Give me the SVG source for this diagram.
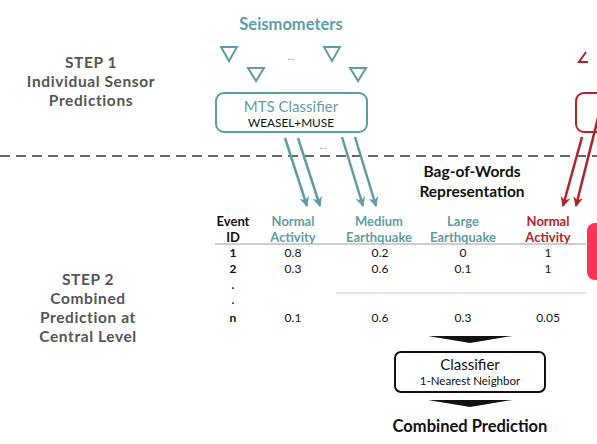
<svg xmlns="http://www.w3.org/2000/svg" width="597" height="444" viewBox="0 0 597 444">
<defs>
<style>
text{font-family:Lato,"Open Sans","DejaVu Sans",sans-serif;text-anchor:middle}
.step{font-weight:bold;font-size:15.5px;fill:#555;letter-spacing:0.6px}
.teal{fill:#5f9ea0}
.red{fill:#b22328}
.b{font-weight:bold}
.hdr{font-size:13px;font-weight:bold}
.val{font-size:12px;fill:#111}
.sens{fill:none;stroke:#5f9ea0;stroke-width:2}
.ta{stroke:#5f9ea0;stroke-width:2.5;fill:none;marker-end:url(#mt)}
.ra{stroke:#b22328;stroke-width:2.5;fill:none;marker-end:url(#mr)}
</style>
<marker id="mt" viewBox="0 0 10 10" refX="9" refY="5" markerWidth="4" markerHeight="4" orient="auto" markerUnits="strokeWidth"><path d="M0,0 L10,5 L0,10 L3,5 z" fill="#5f9ea0"/></marker>
<marker id="mr" viewBox="0 0 10 10" refX="9" refY="5" markerWidth="4" markerHeight="4" orient="auto" markerUnits="strokeWidth"><path d="M0,0 L10,5 L0,10 L3,5 z" fill="#b22328"/></marker>
</defs>
<rect width="597" height="444" fill="#fff"/>

<g id="step1">
<text class="step" x="91" y="68">STEP 1</text>
<text class="step" x="91" y="87">Individual Sensor</text>
<text class="step" x="91" y="106">Predictions</text>
</g>
<g id="step2">
<text class="step" x="88" y="285">STEP 2</text>
<text class="step" x="88" y="304">Combined</text>
<text class="step" x="88" y="323">Prediction at</text>
<text class="step" x="88" y="342">Central Level</text>
</g>

<g id="seismometers">
<text class="teal b" x="291" y="30" font-size="16.5">Seismometers</text>
<polygon class="sens" points="221,47 237,47 229,61"/>
<polygon class="sens" points="248,68 264,68 256,81"/>
<polygon class="sens" points="324,47 340,47 332,61"/>
<polygon class="sens" points="350,68 366,68 358,81"/>
<text x="291" y="60" font-size="10" fill="#5f9ea0">...</text>
</g>

<g id="red-sensor">
<path d="M586,52 L579,62 L588,62" fill="none" stroke="#b22328" stroke-width="2"/>
</g>

<g id="mts">
<rect x="216" y="93" width="151" height="39" rx="8" fill="#fff" stroke="#5f9ea0" stroke-width="2"/>
<text class="teal" x="291" y="112" font-size="15">MTS Classifier</text>
<text x="291" y="127" font-size="11.8" fill="#111">WEASEL+MUSE</text>
</g>

<g id="red-box">
<rect x="576" y="93" width="40" height="39" rx="8" fill="#fff" stroke="#b22328" stroke-width="2"/>
</g>

<g id="pink-box">
<rect x="587" y="223" width="30" height="57" rx="8" fill="#ff3355"/>
</g>

<line x1="0" y1="156" x2="597" y2="156" stroke="#666" stroke-width="2" stroke-dasharray="10,6"/>
<text x="323" y="149" font-size="10" fill="#5f9ea0">...</text>

<g id="connectors">
<line class="ta" x1="285" y1="138" x2="307" y2="206"/>
<line class="ta" x1="298" y1="138" x2="320" y2="206"/>
<line class="ta" x1="342" y1="137" x2="363" y2="206"/>
<line class="ta" x1="355" y1="137" x2="376" y2="206"/>
<line class="ra" x1="582" y1="137" x2="563" y2="206"/>
<line class="ra" x1="600" y1="110" x2="576" y2="206"/>
<polygon points="428,336 512,336 470,343" fill="#111"/>
<polygon points="428,400 512,400 470,407" fill="#111"/>
</g>

<g id="bow-title">
<text class="b" x="472" y="177" font-size="15.5" fill="#111">Bag-of-Words</text>
<text class="b" x="472" y="197" font-size="15.5" fill="#111">Representation</text>
</g>

<g id="table">
<text class="hdr" x="233" y="226" fill="#111">Event</text>
<text class="hdr" x="233" y="242" fill="#111">ID</text>
<text class="hdr teal" x="293" y="226">Normal</text>
<text class="hdr teal" x="293" y="242">Activity</text>
<text class="hdr teal" x="379" y="226">Medium</text>
<text class="hdr teal" x="379" y="242">Earthquake</text>
<text class="hdr teal" x="463" y="226">Large</text>
<text class="hdr teal" x="463" y="242">Earthquake</text>
<text class="hdr red" x="548" y="226">Normal</text>
<text class="hdr red" x="548" y="242">Activity</text>
<line x1="215" y1="244" x2="586" y2="244" stroke="#999" stroke-width="1"/>
<text class="val b" x="233" y="257">1</text>
<text class="val" x="293" y="257">0.8</text>
<text class="val" x="380" y="257">0.2</text>
<text class="val" x="463" y="257">0</text>
<text class="val" x="548" y="257">1</text>
<text class="val b" x="233" y="273">2</text>
<text class="val" x="293" y="273">0.3</text>
<text class="val" x="380" y="273">0.6</text>
<text class="val" x="463" y="273">0.1</text>
<text class="val" x="548" y="273">1</text>
<text class="val b" x="233" y="289">.</text>
<text class="val b" x="233" y="304">.</text>
<line x1="336" y1="293" x2="586" y2="293" stroke="#ccc" stroke-width="1"/>
<text class="val b" x="233" y="322">n</text>
<text class="val" x="293" y="322">0.1</text>
<text class="val" x="380" y="322">0.6</text>
<text class="val" x="463" y="322">0.3</text>
<text class="val" x="548" y="322">0.05</text>
</g>

<g id="classifier">
<rect x="395" y="352" width="150" height="40" rx="6" fill="#fff" stroke="#111" stroke-width="2"/>
<text x="470" y="370" font-size="15" fill="#111">Classifier</text>
<text x="470" y="385" font-size="11.5" fill="#111">1-Nearest Neighbor</text>
</g>

<g id="combined">
<text class="b" x="470" y="432" font-size="16.5" fill="#111">Combined Prediction</text>
</g>
</svg>
